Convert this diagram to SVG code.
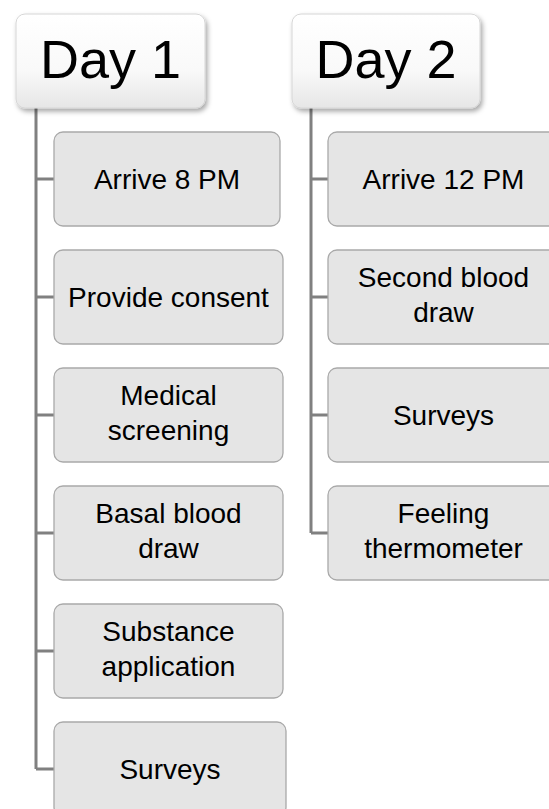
<svg xmlns="http://www.w3.org/2000/svg" width="549" height="809" viewBox="0 0 549 809">
<style>
.hdr{fill:url(#hg);stroke:#d6d6d6;stroke-width:1;filter:url(#sh)}
.box{fill:#e5e5e5;stroke:#a9a9a9;stroke-width:1.3}
.ht{font-family:"Liberation Sans",Arial,sans-serif;font-size:54px;fill:#000;text-anchor:middle}
.bt{font-family:"Liberation Sans",Arial,sans-serif;font-size:28px;fill:#000;text-anchor:middle}
.con{stroke:#808080;stroke-width:3;fill:none}
</style>
<defs>
<linearGradient id="hg" x1="0" y1="0" x2="0" y2="1">
<stop offset="0" stop-color="#ffffff"/>
<stop offset="0.6" stop-color="#f9f9f9"/>
<stop offset="1" stop-color="#e6e6e6"/>
</linearGradient>
<filter id="sh" x="-10%" y="-10%" width="125%" height="130%">
<feDropShadow dx="2" dy="3" stdDeviation="2.5" flood-color="#000" flood-opacity="0.35"/>
</filter>
</defs>
<rect width="549" height="809" fill="#fff"/>
<g id="connectors">
<path class="con" d="M36 108V769M36 179H54M36 297H54M36 415H54M36 533H54M36 651H54M36 769H54"/>
<path class="con" d="M311 108V533M311 179H328M311 297H328M311 415H328M311 533H328"/>
</g>
<g id="day1">
<rect class="hdr" x="16" y="14" width="189" height="94" rx="9"/>
<text class="ht" x="110.5" y="78">Day 1</text>
</g>
<g id="day2">
<rect class="hdr" x="292" y="14" width="188" height="94" rx="9"/>
<text class="ht" x="386" y="78">Day 2</text>
</g>
<g id="d1-arrive">
<rect class="box" x="54" y="132" width="226" height="94" rx="9"/>
<text class="bt" x="167" y="189">Arrive 8 PM</text>
</g>
<g id="d1-consent">
<rect class="box" x="54" y="250" width="229" height="94" rx="9"/>
<text class="bt" x="168.5" y="307">Provide consent</text>
</g>
<g id="d1-medical">
<rect class="box" x="54" y="368" width="229" height="94" rx="9"/>
<text class="bt" x="168.5" y="405">Medical</text>
<text class="bt" x="168.5" y="440">screening</text>
</g>
<g id="d1-basal">
<rect class="box" x="54" y="486" width="229" height="94" rx="9"/>
<text class="bt" x="168.5" y="523">Basal blood</text>
<text class="bt" x="168.5" y="558">draw</text>
</g>
<g id="d1-substance">
<rect class="box" x="54" y="604" width="229" height="94" rx="9"/>
<text class="bt" x="168.5" y="641">Substance</text>
<text class="bt" x="168.5" y="676">application</text>
</g>
<g id="d1-surveys">
<rect class="box" x="54" y="722" width="232" height="94" rx="9"/>
<text class="bt" x="170" y="779">Surveys</text>
</g>
<g id="d2-arrive">
<rect class="box" x="328" y="132" width="231" height="94" rx="9"/>
<text class="bt" x="443.5" y="189">Arrive 12 PM</text>
</g>
<g id="d2-blood">
<rect class="box" x="328" y="250" width="231" height="94" rx="9"/>
<text class="bt" x="443.5" y="287">Second blood</text>
<text class="bt" x="443.5" y="322">draw</text>
</g>
<g id="d2-surveys">
<rect class="box" x="328" y="368" width="231" height="94" rx="9"/>
<text class="bt" x="443.5" y="425">Surveys</text>
</g>
<g id="d2-feeling">
<rect class="box" x="328" y="486" width="231" height="94" rx="9"/>
<text class="bt" x="443.5" y="523">Feeling</text>
<text class="bt" x="443.5" y="558">thermometer</text>
</g>
</svg>
